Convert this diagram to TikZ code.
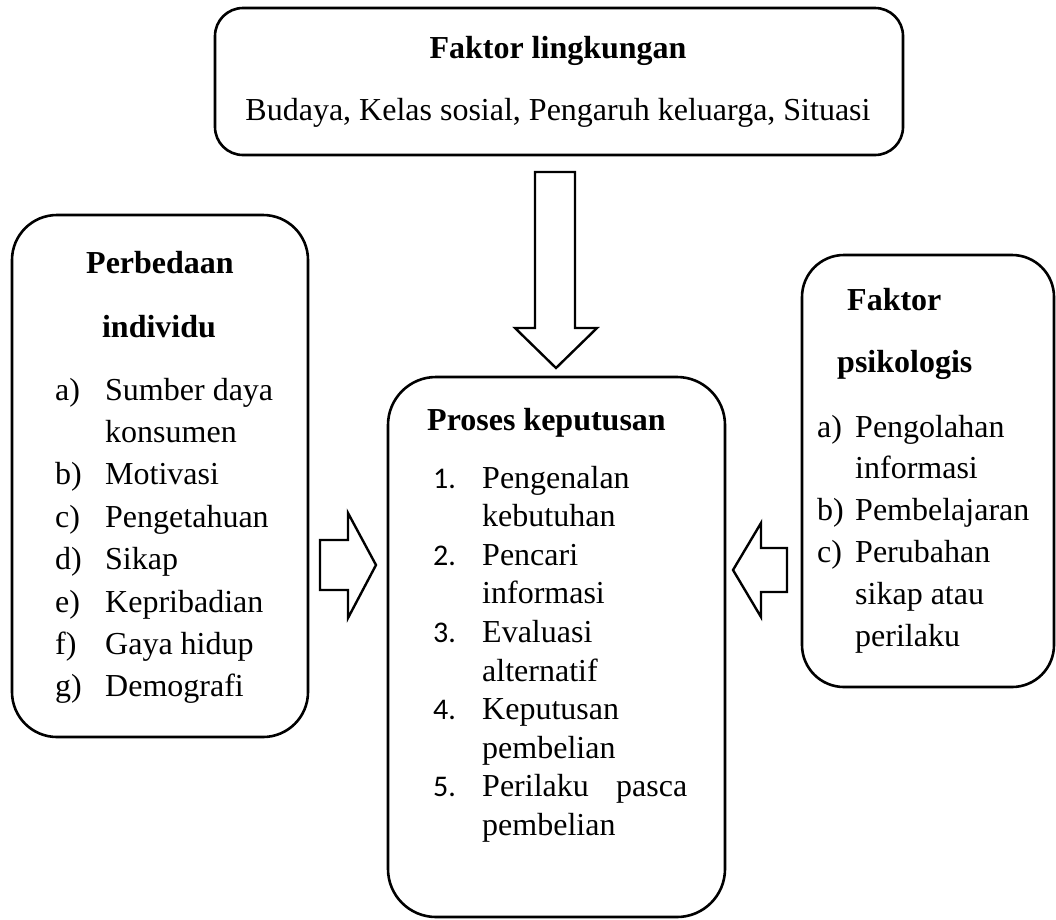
\documentclass[tikz,border=0pt]{standalone}
\usepackage{fontspec}
\setmainfont{Liberation Serif}
\newfontfamily\numfont{Carlito}
\begin{document}
\begin{tikzpicture}[x=1pt,y=-1pt,
  box/.style={draw, line width=2.6pt, inner sep=0pt},
  blockarrow/.style={draw, line width=2.4pt, line join=miter, fill=white},
  txt/.style={font=\fontsize{32}{38}\selectfont, inner sep=0pt, anchor=base west},
  ctxt/.style={font=\fontsize{32}{38}\selectfont, inner sep=0pt, anchor=base},
  ttl/.style={font=\fontsize{32}{38}\selectfont\bfseries, inner sep=0pt, anchor=base},
  lttl/.style={font=\fontsize{32}{38}\selectfont\bfseries, inner sep=0pt, anchor=base west},
  num/.style={font=\numfont\fontsize{30}{34}\selectfont, inner sep=0pt, anchor=base west}]
\useasboundingbox (0,0) rectangle (1056,919);

% boxes
\node[box, rounded corners=28pt, minimum width=688pt, minimum height=147pt] (env) at (559,81.5) {};
\node[box, rounded corners=45pt, minimum width=296pt, minimum height=522pt] (ind) at (160,476) {};
\node[box, rounded corners=48pt, minimum width=337pt, minimum height=540pt] (proc) at (556.5,647) {};
\node[box, rounded corners=42pt, minimum width=252pt, minimum height=432pt] (psy) at (928,471) {};

% block arrows
\draw[blockarrow] (535,172) -- (575,172) -- (575,328) -- (597,328) -- (556,368) -- (515,328) -- (535,328) -- cycle;
\draw[blockarrow] (320,540) -- (348,540) -- (348,513) -- (376,565) -- (348,618) -- (348,590) -- (320,590) -- cycle;
\draw[blockarrow] (787,548) -- (761,548) -- (761,523) -- (733,570) -- (761,617) -- (761,592) -- (787,592) -- cycle;

% top box text
\node[ttl] (envT) at (558,58) {Faktor lingkungan};
\node[ctxt] (envB) at (558,120) {Budaya, Kelas sosial, Pengaruh keluarga, Situasi};

% left box text
\node[ttl] (indT1) at (160,273) {Perbedaan};
\node[ttl] (indT2) at (159,337) {individu};
\node[txt] (indLa) at (55,400) {a)};
\node[txt] (indA1) at (105,400) {Sumber daya};
\node[txt] (indA2) at (105,442.4) {konsumen};
\node[txt] (indLb) at (55,484.8) {b)};
\node[txt] (indB) at (105,484.8) {Motivasi};
\node[txt] (indLc) at (55,527.2) {c)};
\node[txt] (indC) at (105,527.2) {Pengetahuan};
\node[txt] (indLd) at (55,569.6) {d)};
\node[txt] (indD) at (105,569.6) {Sikap};
\node[txt] (indLe) at (55,612) {e)};
\node[txt] (indE) at (105,612) {Kepribadian};
\node[txt] (indLf) at (55,654.4) {f)};
\node[txt] (indF) at (105,654.4) {Gaya hidup};
\node[txt] (indLg) at (55,696.8) {g)};
\node[txt] (indG) at (105,696.8) {Demografi};

% right box text
\node[lttl] (psyT1) at (847,310) {Faktor};
\node[lttl] (psyT2) at (837,372) {psikologis};
\node[txt] (psyLa) at (817,437) {a)};
\node[txt] (psyA1) at (855,437) {Pengolahan};
\node[txt] (psyA2) at (855,478.8) {informasi};
\node[txt] (psyLb) at (817,520.6) {b)};
\node[txt] (psyB) at (855,520.6) {Pembelajaran};
\node[txt] (psyLc) at (817,562.4) {c)};
\node[txt] (psyC1) at (855,562.4) {Perubahan};
\node[txt] (psyC2) at (855,604.2) {sikap atau};
\node[txt] (psyC3) at (855,646) {perilaku};

% central box text
\node[ttl] (procT) at (546.5,430) {Proses keputusan};
\node[num] (procN1) at (433,488) {1.};
\node[txt] (proc1a) at (482,488) {Pengenalan};
\node[txt] (proc1b) at (482,526.6) {kebutuhan};
\node[num] (procN2) at (433,565.2) {2.};
\node[txt] (proc2a) at (482,565.2) {Pencari};
\node[txt] (proc2b) at (482,603.8) {informasi};
\node[num] (procN3) at (433,642.4) {3.};
\node[txt] (proc3a) at (482,642.4) {Evaluasi};
\node[txt] (proc3b) at (482,681) {alternatif};
\node[num] (procN4) at (433,719.6) {4.};
\node[txt] (proc4a) at (482,719.6) {Keputusan};
\node[txt] (proc4b) at (482,758.2) {pembelian};
\node[num] (procN5) at (433,796.8) {5.};
\node[txt] (proc5a) at (482,796.8) {\makebox[205pt][s]{Perilaku pasca}};
\node[txt] (proc5b) at (482,835.4) {pembelian};
\end{tikzpicture}
\end{document}
